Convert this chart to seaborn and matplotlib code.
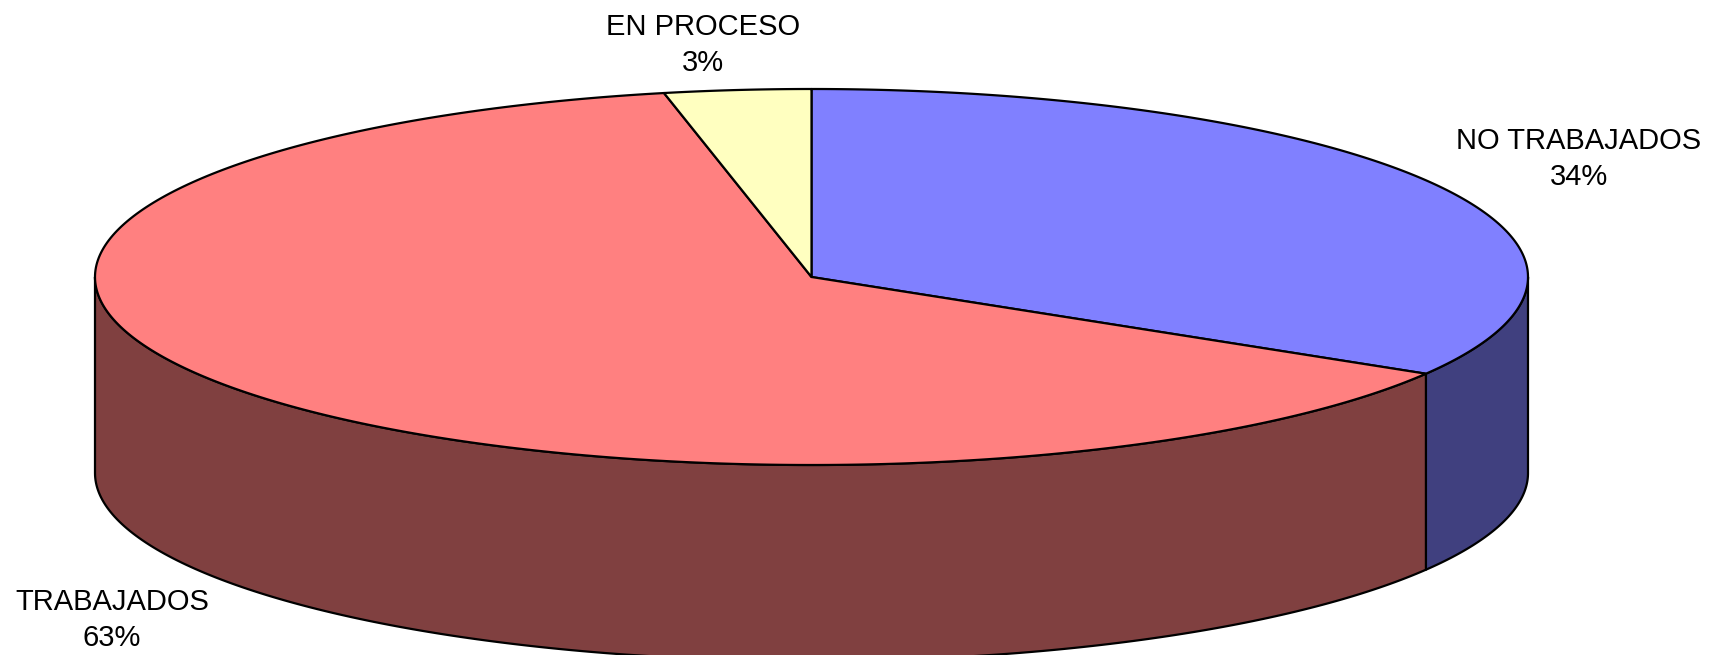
import numpy as np
import matplotlib
matplotlib.use("Agg")
import matplotlib.pyplot as plt
from matplotlib.patches import Polygon
import seaborn as sns

# Data (shares)
categories = ["NO TRABAJADOS", "TRABAJADOS", "EN PROCESO"]
shares = [33.6, 63.1, 3.3]
top_colors = ["#8080FF", "#FF8080", "#FFFFC0"]
side_colors = ["#40407F", "#804040", "#80805F"]

sns.set_theme(style="white")
plt.rcParams['font.family'] = ['Liberation Sans', 'DejaVu Sans']

# Pie geometry in pixel units
cx, cy = 811.5, 277
a, b = 716.5, 188
depth = 196

fig = plt.figure(figsize=(17.1, 6.55), dpi=100)
ax = fig.add_axes([0, 0, 1, 1])
ax.set_xlim(0, 1710)
ax.set_ylim(655, 0)
ax.axis('off')


def ell(t, dy=0):
    r = np.radians(t)
    return np.column_stack([cx + a * np.cos(r), cy - b * np.sin(r) + dy])


fracs = np.array(shares) / sum(shares)
starts = 90 - np.concatenate([[0], np.cumsum(fracs)[:-1]]) * 360
ends = starts - fracs * 360

# Side walls (front half only)
for s, e, sc in zip(starts, ends, side_colors):
    for k in range(-1, 2):
        lo = max(e, -180 - 360 * k)
        hi = min(s, -360 * k)
        if hi - lo <= 0:
            continue
        t = np.linspace(hi, lo, 200)
        pts = np.vstack([ell(t), ell(t[::-1], depth)])
        ax.add_patch(Polygon(pts, closed=True, facecolor=sc, edgecolor='black',
                             linewidth=1.6, joinstyle='round'))

# Top faces
for s, e, tc in zip(starts, ends, top_colors):
    t = np.linspace(s, e, 300)
    pts = np.vstack([[cx, cy], ell(t)])
    ax.add_patch(Polygon(pts, closed=True, facecolor=tc, edgecolor='black',
                         linewidth=1.6, joinstyle='round'))

# Labels
label_pos = [(1579, 159), (112, 620), (703, 45)]
for cat, sh, (x, y) in zip(categories, shares, label_pos):
    ax.text(x, y, f"{cat}\n{round(sh):.0f}%", ha='center', va='center',
            fontsize=21, color='black', linespacing=1.4)

fig.savefig("out.png", dpi=100, facecolor='white')
